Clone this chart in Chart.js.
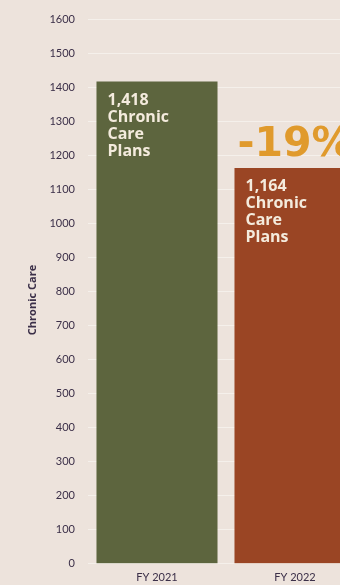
<!DOCTYPE html>
<html>
<head>
<meta charset="utf-8">
<script src="https://cdn.jsdelivr.net/npm/chart.js@4/dist/chart.umd.min.js"></script>
<style>
  html, body { margin: 0; padding: 0; background: #ede3dc; overflow: hidden; }
  #wrap { width: 372px; height: 595px; }
</style>
</head>
<body>
<div id="wrap"><canvas id="myChart"></canvas></div>
<script>
// dati del grafico
const years = ['FY 2021', 'FY 2022'];
const plans = [1418, 1164];
const barColors = ['#5d653e', '#9a4524'];
const changeText = '-19%';
const axisTitle = 'Chronic Care';
const yTicks = [0, 1600, 100]; // min, max, step

/*etichette dentro le barre, variazione percentuale e titolo asse*/
const barText = {
  id: 'barText',
  afterDatasetsDraw(chart) {
    const ctx = chart.ctx;
    const bars = chart.getDatasetMeta(0).data;
    ctx.save();
    ctx.textBaseline = 'top';
    ctx.textAlign = 'left';
    bars.forEach((bar, i) => {
      const left = bar.x - bar.width / 2;
      const lines = [plans[i].toLocaleString('en-US'), 'Chronic', 'Care', 'Plans'];
      ctx.fillStyle = '#f4ebdd';
      ctx.font = 'bold 16px "Open Sans", Lato, sans-serif';
      lines.forEach((t, k) => ctx.fillText(t, left + 11, bar.y + 11 + k * 17));
    });
    // variazione tra i due anni
    const b = bars[1];
    ctx.fillStyle = '#e09a2c';
    ctx.font = 'bold 41px "DejaVu Sans", sans-serif';
    ctx.textBaseline = 'alphabetic';
    ctx.fillText(changeText, b.x - b.width / 2 + 3, b.y - 12);

    // titolo asse y, ruotato
    ctx.translate(33, 300);
    ctx.rotate(-Math.PI / 2);
    ctx.textAlign = 'center';
    ctx.textBaseline = 'middle';
    ctx.fillStyle = '#3b2f48';
    ctx.font = 'bold 11px "Open Sans", sans-serif';
    ctx.fillText(axisTitle, 0, 0);
    ctx.restore();
  }
};

const config = {
  type: 'bar',
  data: {
    labels: years,
    datasets: [{
      data: plans,
      backgroundColor: barColors,
      borderWidth: 0,
      barPercentage: 0.877,
      categoryPercentage: 1
    }]
  },
  options: {
    responsive: true,
    maintainAspectRatio: false,
    animation: false,
    devicePixelRatio: 1,
    layout: { padding: { top: 19, left: 22, right: 8, bottom: 4 } },
    plugins: { legend: { display: false }, tooltip: { enabled: false } },
    scales: {
      x: {
        grid: { display: false, drawTicks: false },
        border: { display: false },
        ticks: { color: '#3b2f48', padding: 7, font: { size: 11, family: 'Lato, sans-serif' } }
      },
      y: {
        min: yTicks[0],
        max: yTicks[1],
        ticks: {
          stepSize: yTicks[2],
          color: '#3b2f48',
          padding: 13,
          font: { size: 11, family: 'Lato, sans-serif' },
          callback: v => String(v)
        },
        grid: { color: '#f5f0eb', drawTicks: false },
        border: { display: false },
        afterFit(scale) { scale.width = 66; }
      }
    }
  },
  plugins: [barText]
};

var ctx = document.getElementById('myChart').getContext('2d');
const myChart = new Chart(ctx, config);
</script>
</body>
</html>
